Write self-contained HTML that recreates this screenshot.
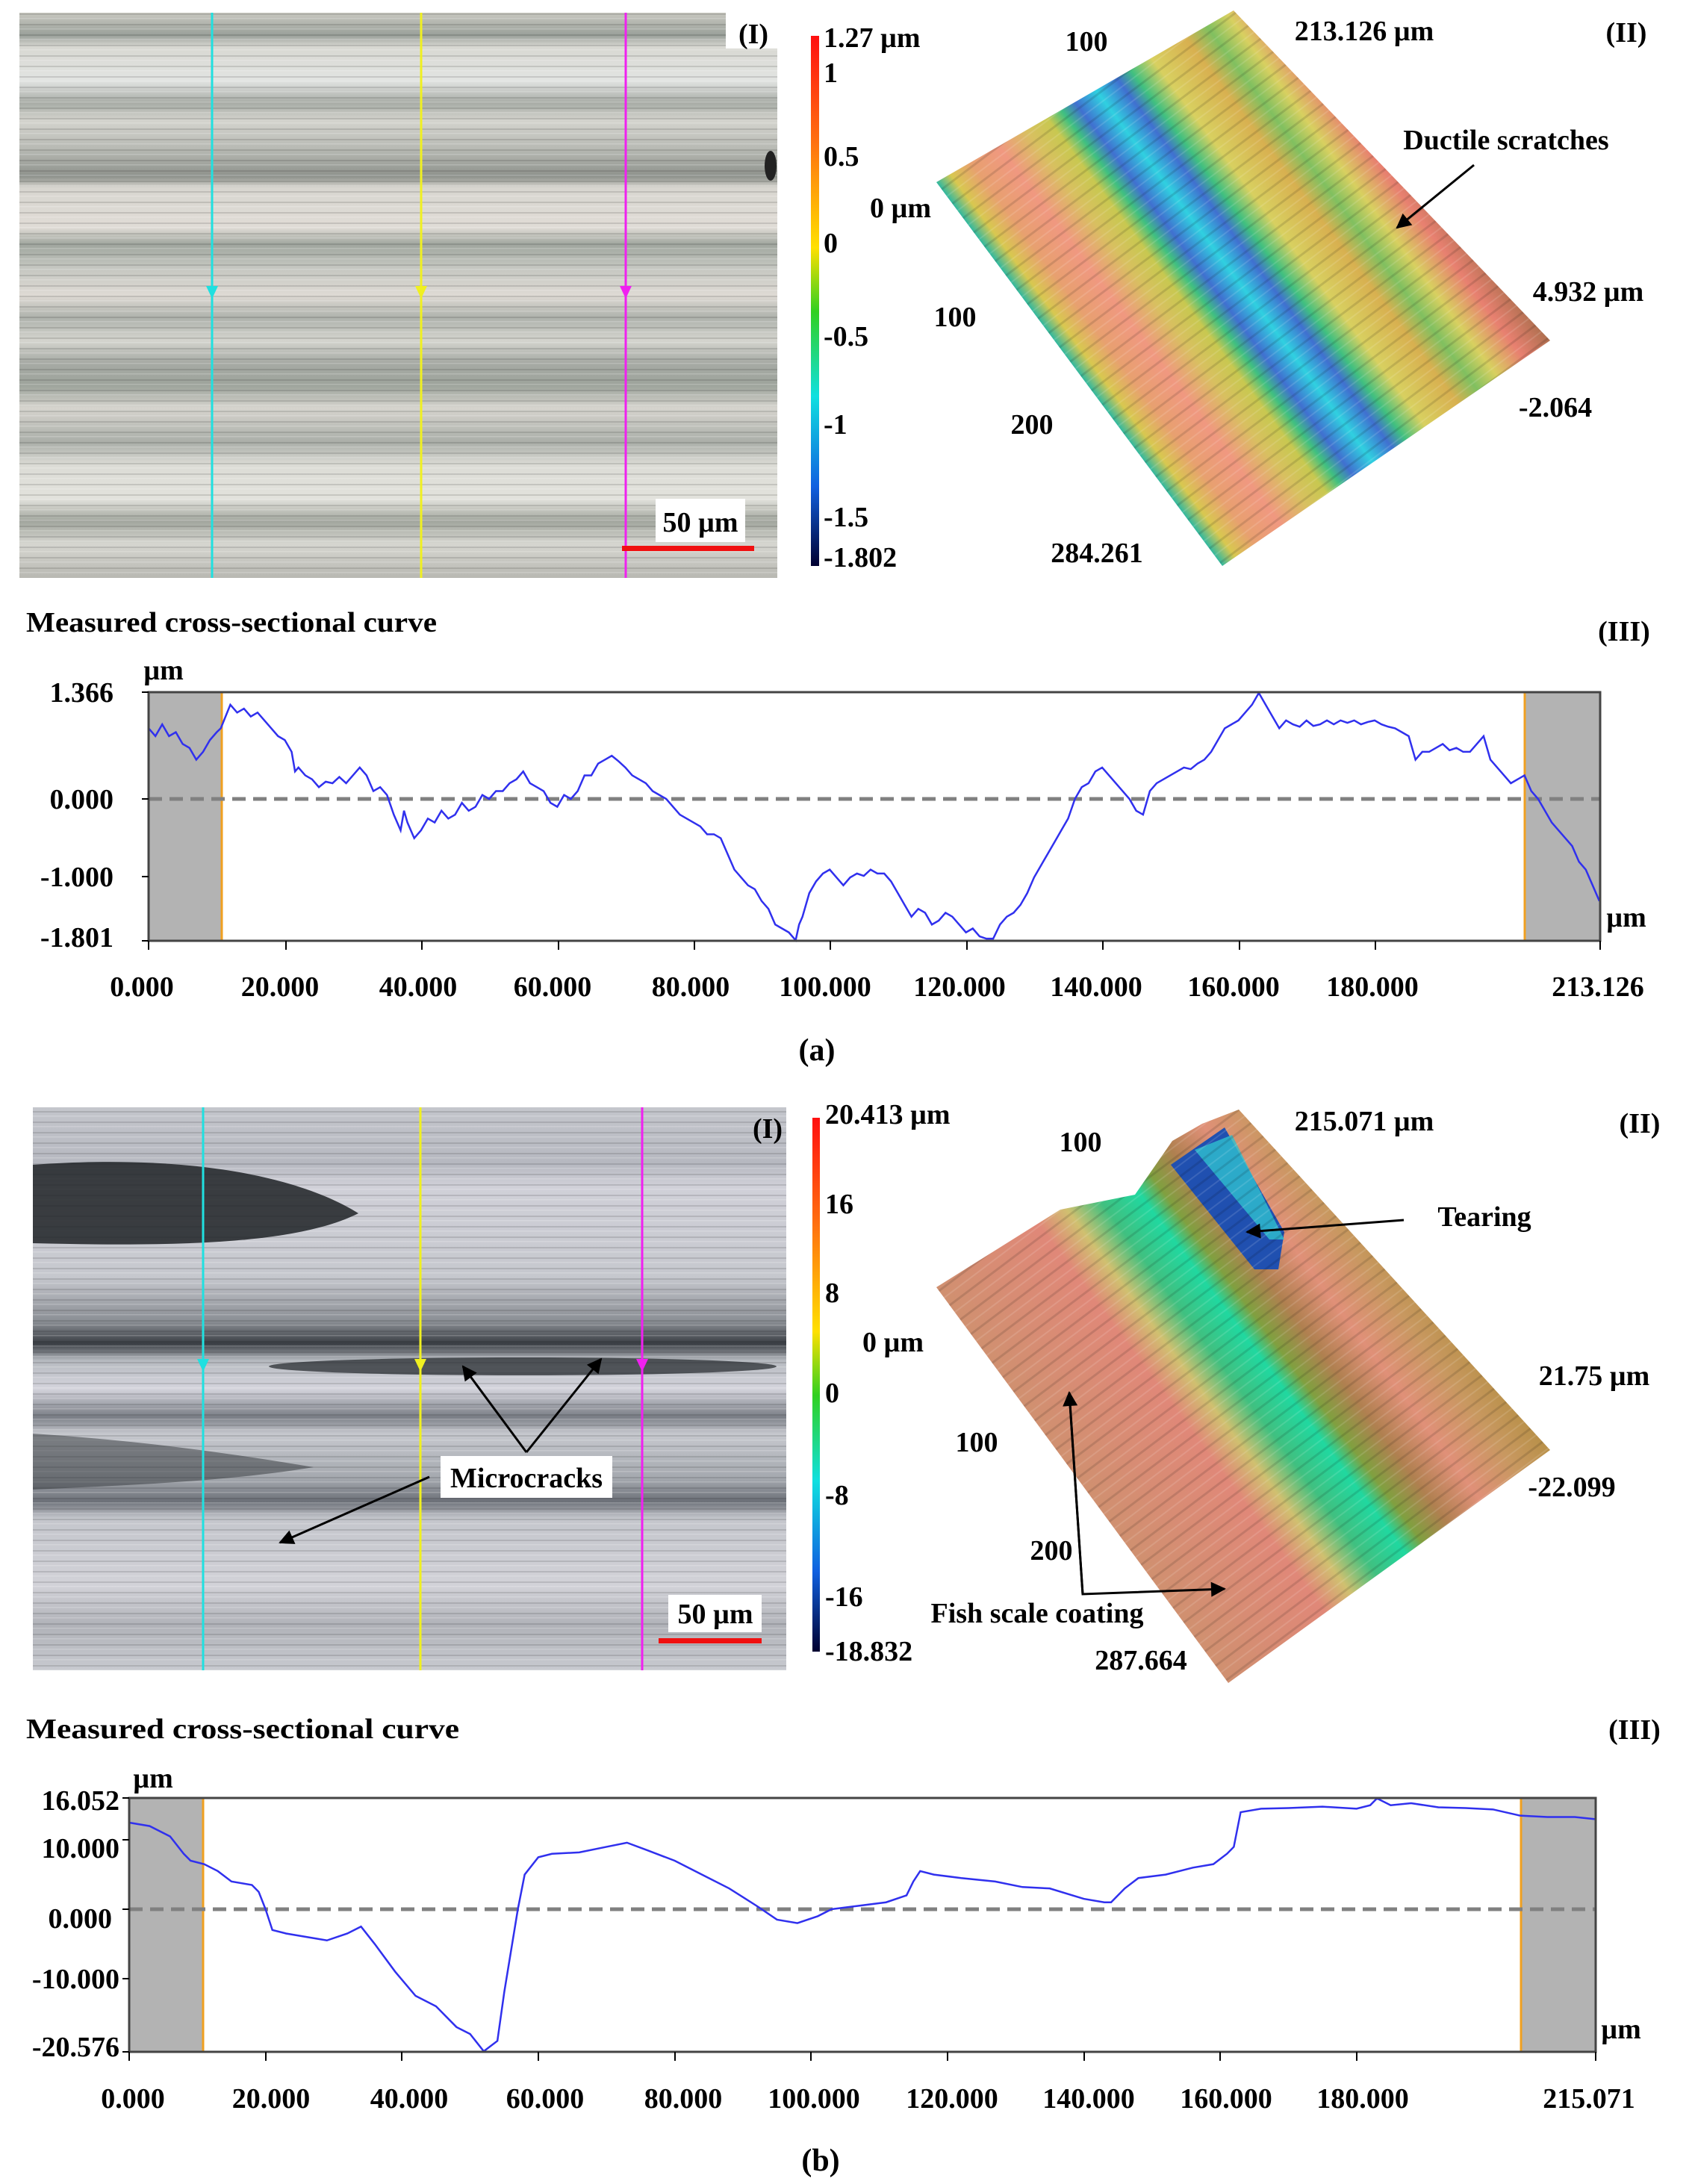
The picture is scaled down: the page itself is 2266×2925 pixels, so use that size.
<!DOCTYPE html>
<html><head><meta charset="utf-8"><style>
html,body{margin:0;padding:0;background:#fff;}
svg{display:block;}
text{font-family:"Liberation Serif",serif;font-weight:bold;fill:#000;}
</style></head><body>
<svg width="2266" height="2925" viewBox="0 0 2266 2925" xmlns="http://www.w3.org/2000/svg">
<defs>
<linearGradient id="cb" x1="0" y1="0" x2="0" y2="1">
<stop offset="0" stop-color="#ff1010"/><stop offset="0.2" stop-color="#ff7010"/><stop offset="0.4" stop-color="#ffe000"/><stop offset="0.52" stop-color="#30d020"/><stop offset="0.68" stop-color="#10e0e0"/><stop offset="0.85" stop-color="#1060e0"/><stop offset="1" stop-color="#000030"/>
</linearGradient>
<linearGradient id="pa" x1="0" y1="0" x2="0" y2="1">
<stop offset="0" stop-color="#c8c8c0"/><stop offset="0.04" stop-color="#9aa09a"/><stop offset="0.06" stop-color="#d8d8d2"/><stop offset="0.12" stop-color="#e2e4e2"/><stop offset="0.16" stop-color="#a8aca6"/><stop offset="0.19" stop-color="#d4d4ce"/><stop offset="0.24" stop-color="#b8bab4"/><stop offset="0.29" stop-color="#8e928c"/><stop offset="0.31" stop-color="#d8d6d0"/><stop offset="0.38" stop-color="#e0dcd6"/><stop offset="0.41" stop-color="#a0a69e"/><stop offset="0.45" stop-color="#c4c6c0"/><stop offset="0.5" stop-color="#dedad4"/><stop offset="0.54" stop-color="#aeb2ac"/><stop offset="0.58" stop-color="#d4d4ce"/><stop offset="0.62" stop-color="#a6aaa4"/><stop offset="0.66" stop-color="#9ea49c"/><stop offset="0.7" stop-color="#d6d4ce"/><stop offset="0.76" stop-color="#aaaea8"/><stop offset="0.8" stop-color="#dcdcd6"/><stop offset="0.86" stop-color="#e2e2dc"/><stop offset="0.9" stop-color="#a2a69e"/><stop offset="0.94" stop-color="#d6d6d0"/><stop offset="1" stop-color="#b8b8b2"/>
</linearGradient>
<pattern id="str" width="40" height="14" patternUnits="userSpaceOnUse"><rect width="40" height="14" fill="none"/><rect y="4" width="40" height="2" fill="#000" opacity="0.12"/><rect y="10" width="40" height="1.5" fill="#fff" opacity="0.2"/></pattern>
<linearGradient id="pb" x1="0" y1="0" x2="0" y2="1">
<stop offset="0" stop-color="#c4c6cc"/><stop offset="0.1" stop-color="#b6b8c0"/><stop offset="0.14" stop-color="#d0d0d8"/><stop offset="0.3" stop-color="#c6c8ce"/><stop offset="0.38" stop-color="#8a8e94"/><stop offset="0.42" stop-color="#3a3e44"/><stop offset="0.45" stop-color="#b6bac0"/><stop offset="0.5" stop-color="#d4d4dc"/><stop offset="0.55" stop-color="#7a7e86"/><stop offset="0.58" stop-color="#c6c8ce"/><stop offset="0.66" stop-color="#a4a8ae"/><stop offset="0.7" stop-color="#6c7078"/><stop offset="0.73" stop-color="#c4c6cc"/><stop offset="0.85" stop-color="#d2d2d8"/><stop offset="0.92" stop-color="#b0b2b8"/><stop offset="1" stop-color="#c8cad0"/>
</linearGradient>
<linearGradient id="s3a" gradientUnits="userSpaceOnUse" x1="1254" y1="244" x2="1681" y2="-74">
<stop offset="0" stop-color="#30b8a0"/><stop offset="0.04" stop-color="#d8c850"/><stop offset="0.1" stop-color="#e8a070"/><stop offset="0.18" stop-color="#f09880"/><stop offset="0.26" stop-color="#d8c060"/><stop offset="0.32" stop-color="#c8c850"/><stop offset="0.36" stop-color="#40c080"/><stop offset="0.4" stop-color="#4070d0"/><stop offset="0.46" stop-color="#30d0e0"/><stop offset="0.52" stop-color="#4070d0"/><stop offset="0.56" stop-color="#40c080"/><stop offset="0.62" stop-color="#d8d060"/><stop offset="0.72" stop-color="#d8b050"/><stop offset="0.78" stop-color="#80c060"/><stop offset="0.84" stop-color="#d8d060"/><stop offset="0.92" stop-color="#e88070"/><stop offset="1" stop-color="#b07050"/>
</linearGradient>
<linearGradient id="s3b" gradientUnits="userSpaceOnUse" x1="1254" y1="1724" x2="1683" y2="1407">
<stop offset="0" stop-color="#d09070"/><stop offset="0.3" stop-color="#e08878"/><stop offset="0.38" stop-color="#d0c070"/><stop offset="0.46" stop-color="#40c080"/><stop offset="0.55" stop-color="#20d8a0"/><stop offset="0.6" stop-color="#80a040"/><stop offset="0.68" stop-color="#b08050"/><stop offset="0.78" stop-color="#e09078"/><stop offset="0.9" stop-color="#c89860"/><stop offset="1" stop-color="#b89048"/>
</linearGradient>
<pattern id="diag" width="24" height="24" patternUnits="userSpaceOnUse" patternTransform="rotate(-37)"><rect width="24" height="3" fill="#000" opacity="0.12"/><rect y="12" width="24" height="2" fill="#fff" opacity="0.12"/></pattern>
<clipPath id="cpb"><rect x="44" y="1483" width="1009" height="754"/></clipPath>
<marker id="arb" viewBox="0 0 10 10" refX="9" refY="5" markerWidth="24" markerHeight="20" orient="auto" markerUnits="userSpaceOnUse"><path d="M0,0 L10,5 L0,10 z" fill="#000"/></marker>
</defs>

<!-- ===== (a) ===== -->
<rect x="26" y="17" width="1015" height="757" fill="url(#pa)"/>
<rect x="26" y="17" width="1015" height="757" fill="url(#str)"/>
<rect x="972" y="17" width="69" height="48" fill="#fff"/>
<ellipse cx="1032" cy="222" rx="8" ry="20" fill="#222"/>
<line x1="284" y1="17" x2="284" y2="774" stroke="#20e0e0" stroke-width="3"/>
<path d="M276,383 L292,383 L284,400z" fill="#20e0e0"/>
<line x1="564" y1="17" x2="564" y2="774" stroke="#f0f020" stroke-width="3"/>
<path d="M556,383 L572,383 L564,400z" fill="#f0f020"/>
<line x1="838" y1="17" x2="838" y2="774" stroke="#f020f0" stroke-width="3"/>
<path d="M830,383 L846,383 L838,400z" fill="#f020f0"/>
<rect x="878" y="668" width="120" height="58" fill="#fff"/>
<text x="938" y="712" font-size="38" text-anchor="middle">50 µm</text>
<rect x="833" y="731" width="177" height="7" fill="#f01010"/>
<text x="1009" y="58" font-size="38" text-anchor="middle">(I)</text>

<rect x="1086" y="48" width="11" height="710" fill="url(#cb)"/>
<g font-size="38">
<text x="1103" y="63">1.27 µm</text><text x="1103" y="110">1</text><text x="1103" y="222">0.5</text><text x="1103" y="338">0</text><text x="1103" y="463">-0.5</text><text x="1103" y="581">-1</text><text x="1103" y="705">-1.5</text><text x="1103" y="759">-1.802</text>
</g>

<polygon points="1254,244 1652,14 2076,456 1637,758" fill="url(#s3a)"/>
<polygon points="1254,244 1652,14 2076,456 1637,758" fill="url(#diag)"/>
<g font-size="38">
<text x="1455" y="68" text-anchor="middle">100</text>
<text x="1827" y="54" text-anchor="middle">213.126 µm</text>
<text x="2178" y="56" text-anchor="middle">(II)</text>
<text x="2017" y="200" text-anchor="middle">Ductile scratches</text>
<text x="1206" y="291" text-anchor="middle">0 µm</text>
<text x="2127" y="403" text-anchor="middle">4.932 µm</text>
<text x="1279" y="437" text-anchor="middle">100</text>
<text x="2083" y="558" text-anchor="middle">-2.064</text>
<text x="1382" y="581" text-anchor="middle">200</text>
<text x="1469" y="753" text-anchor="middle">284.261</text>
</g>
<line x1="1974" y1="221" x2="1871" y2="305" stroke="#000" stroke-width="3" marker-end="url(#arb)"/>

<text x="35" y="846" font-size="38" textLength="550" lengthAdjust="spacingAndGlyphs">Measured cross-sectional curve</text>
<text x="2175" y="858" font-size="38" text-anchor="middle">(III)</text>

<rect x="199" y="927" width="1944" height="333" fill="#fff"/>
<rect x="199" y="927" width="98" height="333" fill="#b3b3b3"/>
<rect x="2042" y="927" width="101" height="333" fill="#b3b3b3"/>
<line x1="297" y1="927" x2="297" y2="1260" stroke="#f0a020" stroke-width="3"/>
<line x1="2042" y1="927" x2="2042" y2="1260" stroke="#f0a020" stroke-width="3"/>
<line x1="199" y1="1070" x2="2143" y2="1070" stroke="#808080" stroke-width="5" stroke-dasharray="18,10"/>
<g transform="translate(199,1070) scale(9.122,-105.15)">
<polyline fill="none" stroke="#3030ee" stroke-width="2.5" vector-effect="non-scaling-stroke" points="0,0.9 1,0.8 2,0.95 3,0.8 4,0.85 5,0.7 6,0.65 7,0.5 8,0.6 9,0.75 10,0.85 10.6,0.9 12,1.2 13,1.1 14,1.15 15,1.05 16,1.1 17,1.0 18,0.9 19,0.8 20,0.75 21,0.6 21.5,0.35 22,0.4 23,0.3 24,0.25 25,0.15 26,0.22 27,0.2 28,0.28 29,0.2 30,0.3 31,0.4 32,0.3 33,0.1 34,0.15 35,0.05 36,-0.2 37,-0.4 37.5,-0.15 38,-0.3 39,-0.5 40,-0.4 41,-0.25 42,-0.3 43,-0.15 44,-0.25 45,-0.2 46,-0.05 47,-0.15 48,-0.1 49,0.05 50,0.0 51,0.1 52,0.1 53,0.2 54,0.25 55,0.35 56,0.2 57,0.15 58,0.1 59,-0.05 60,-0.1 61,0.05 62,0.0 63,0.1 64,0.3 65,0.3 66,0.45 67,0.5 68,0.55 69,0.48 70,0.4 71,0.3 72,0.25 73,0.2 74,0.1 75,0.05 76,0.0 77,-0.1 78,-0.2 80,-0.3 81,-0.35 82,-0.45 83,-0.45 84,-0.5 85,-0.7 86,-0.9 87,-1.0 88,-1.1 89,-1.15 90,-1.3 91,-1.4 92,-1.6 93,-1.65 94,-1.7 95,-1.8 95.5,-1.6 96,-1.5 97,-1.2 98,-1.05 99,-0.95 100,-0.9 101,-1.0 102,-1.1 103,-1.0 104,-0.95 105,-0.98 106,-0.9 107,-0.95 108,-0.95 109,-1.05 110,-1.2 111,-1.35 112,-1.5 113,-1.4 114,-1.45 115,-1.6 116,-1.55 117,-1.45 118,-1.5 119,-1.6 120,-1.7 121,-1.65 122,-1.75 123,-1.78 124,-1.78 125,-1.6 126,-1.5 127,-1.45 128,-1.35 129,-1.2 130,-1.0 131,-0.85 132,-0.7 133,-0.55 134,-0.4 135,-0.25 136,0.0 137,0.15 138,0.2 139,0.35 140,0.4 141,0.3 142,0.2 143,0.1 144,0.0 145,-0.15 146,-0.2 147,0.1 148,0.2 149,0.25 150,0.3 151,0.35 152,0.4 153,0.38 154,0.45 155,0.5 156,0.6 157,0.75 158,0.9 159,0.95 160,1.0 161,1.1 162,1.2 163,1.35 164,1.2 165,1.05 166,0.9 167,1.0 168,0.95 169,0.92 170,1.0 171,0.93 172,0.95 173,1.0 174,0.95 175,1.0 176,0.97 177,1.0 178,0.95 179,0.98 180,1.0 181,0.95 182,0.92 183,0.9 184,0.85 185,0.8 186,0.5 187,0.6 188,0.6 189,0.65 190,0.7 191,0.62 192,0.65 193,0.6 194,0.6 195,0.7 196,0.8 197,0.5 198,0.4 199,0.3 200,0.2 201,0.25 202,0.3 203,0.1 204,0.0 205,-0.15 206,-0.3 207,-0.4 208,-0.5 209,-0.6 210,-0.8 211,-0.9 212,-1.1 213,-1.3"/>
</g>
<rect x="199" y="927" width="1944" height="333" fill="none" stroke="#444" stroke-width="3"/>
<g stroke="#000" stroke-width="2">
<line x1="190" y1="927" x2="199" y2="927"/><line x1="190" y1="1070" x2="199" y2="1070"/><line x1="190" y1="1174" x2="199" y2="1174"/><line x1="190" y1="1260" x2="199" y2="1260"/>
</g>
<g font-size="38" text-anchor="end">
<text x="152" y="940">1.366</text><text x="152" y="1083">0.000</text><text x="152" y="1187">-1.000</text><text x="152" y="1268">-1.801</text>
</g>
<text x="219" y="910" font-size="38" text-anchor="middle">µm</text>
<text x="2178" y="1241" font-size="38" text-anchor="middle">µm</text>
<g stroke="#000" stroke-width="2">
<line x1="199" y1="1260" x2="199" y2="1272"/><line x1="383" y1="1260" x2="383" y2="1272"/><line x1="565" y1="1260" x2="565" y2="1272"/><line x1="748" y1="1260" x2="748" y2="1272"/><line x1="930" y1="1260" x2="930" y2="1272"/><line x1="1112" y1="1260" x2="1112" y2="1272"/><line x1="1295" y1="1260" x2="1295" y2="1272"/><line x1="1477" y1="1260" x2="1477" y2="1272"/><line x1="1660" y1="1260" x2="1660" y2="1272"/><line x1="1842" y1="1260" x2="1842" y2="1272"/><line x1="2143" y1="1260" x2="2143" y2="1272"/>
</g>
<g font-size="38" text-anchor="middle">
<text x="190" y="1334">0.000</text><text x="375" y="1334">20.000</text><text x="560" y="1334">40.000</text><text x="740" y="1334">60.000</text><text x="925" y="1334">80.000</text><text x="1105" y="1334">100.000</text><text x="1285" y="1334">120.000</text><text x="1468" y="1334">140.000</text><text x="1652" y="1334">160.000</text><text x="1838" y="1334">180.000</text><text x="2140" y="1334">213.126</text>
</g>
<text x="1094" y="1420" font-size="42" text-anchor="middle">(a)</text>

<!-- ===== (b) ===== -->
<rect x="44" y="1483" width="1009" height="754" fill="url(#pb)"/>
<rect x="44" y="1483" width="1009" height="754" fill="url(#str)"/>
<g clip-path="url(#cpb)">
<path d="M44,1560 C250,1545 400,1575 480,1625 C400,1665 250,1670 44,1665 z" fill="#1e2226" opacity="0.85"/>
<path d="M44,1920 C200,1930 330,1950 420,1965 C300,1985 150,1990 44,1995 z" fill="#303438" opacity="0.5"/>
<ellipse cx="700" cy="1830" rx="340" ry="12" fill="#202428" opacity="0.7"/>
</g>
<line x1="272" y1="1483" x2="272" y2="2237" stroke="#20e0e0" stroke-width="3"/>
<path d="M264,1820 L280,1820 L272,1837z" fill="#20e0e0"/>
<line x1="563" y1="1483" x2="563" y2="2237" stroke="#f0f020" stroke-width="3"/>
<path d="M555,1820 L571,1820 L563,1837z" fill="#f0f020"/>
<line x1="860" y1="1483" x2="860" y2="2237" stroke="#f020f0" stroke-width="3"/>
<path d="M852,1820 L868,1820 L860,1837z" fill="#f020f0"/>
<rect x="590" y="1950" width="230" height="56" fill="#fff"/>
<text x="705" y="1992" font-size="38" text-anchor="middle">Microcracks</text>
<line x1="705" y1="1945" x2="620" y2="1830" stroke="#000" stroke-width="3" marker-end="url(#arb)"/>
<line x1="705" y1="1945" x2="805" y2="1820" stroke="#000" stroke-width="3" marker-end="url(#arb)"/>
<line x1="575" y1="1978" x2="375" y2="2066" stroke="#000" stroke-width="3" marker-end="url(#arb)"/>
<rect x="895" y="2136" width="125" height="50" fill="#fff"/>
<text x="958" y="2174" font-size="38" text-anchor="middle">50 µm</text>
<rect x="882" y="2194" width="138" height="7" fill="#f01010"/>
<text x="1028" y="1524" font-size="38" text-anchor="middle">(I)</text>

<rect x="1088" y="1497" width="10" height="715" fill="url(#cb)"/>
<g font-size="38">
<text x="1105" y="1505">20.413 µm</text><text x="1105" y="1625">16</text><text x="1105" y="1744">8</text><text x="1155" y="1810">0 µm</text><text x="1105" y="1878">0</text><text x="1105" y="2015">-8</text><text x="1105" y="2151">-16</text><text x="1105" y="2224">-18.832</text>
</g>

<polygon points="1254,1724 1420,1620 1520,1600 1570,1528 1610,1505 1659,1486 2076,1942 1645,2254" fill="url(#s3b)"/>
<polygon points="1568,1560 1640,1510 1720,1650 1712,1700 1680,1700" fill="#2050b0"/>
<polygon points="1600,1540 1650,1520 1720,1660 1700,1660" fill="#30c0d0" opacity="0.8"/>
<polygon points="1254,1724 1420,1620 1520,1600 1570,1528 1610,1505 1659,1486 2076,1942 1645,2254" fill="url(#diag)"/>
<g font-size="38">
<text x="1447" y="1542" text-anchor="middle">100</text>
<text x="1827" y="1514" text-anchor="middle">215.071 µm</text>
<text x="2196" y="1517" text-anchor="middle">(II)</text>
<text x="1988" y="1642" text-anchor="middle">Tearing</text>
<text x="2135" y="1855" text-anchor="middle">21.75 µm</text>
<text x="1308" y="1944" text-anchor="middle">100</text>
<text x="2105" y="2004" text-anchor="middle">-22.099</text>
<text x="1408" y="2089" text-anchor="middle">200</text>
<text x="1389" y="2173" text-anchor="middle">Fish scale coating</text>
<text x="1528" y="2236" text-anchor="middle">287.664</text>
</g>
<line x1="1880" y1="1634" x2="1670" y2="1650" stroke="#000" stroke-width="3" marker-end="url(#arb)"/>
<polyline points="1432,1865 1450,2135 1640,2128" fill="none" stroke="#000" stroke-width="3" marker-end="url(#arb)"/>
<line x1="1450" y1="2135" x2="1432" y2="1865" stroke="#000" stroke-width="3" marker-end="url(#arb)"/>

<text x="35" y="2328" font-size="38" textLength="580" lengthAdjust="spacingAndGlyphs">Measured cross-sectional curve</text>
<text x="2189" y="2329" font-size="38" text-anchor="middle">(III)</text>

<rect x="173" y="2408" width="1964" height="340" fill="#fff"/>
<rect x="173" y="2408" width="99" height="340" fill="#b3b3b3"/>
<rect x="2037" y="2408" width="100" height="340" fill="#b3b3b3"/>
<line x1="272" y1="2408" x2="272" y2="2748" stroke="#f0a020" stroke-width="3"/>
<line x1="2037" y1="2408" x2="2037" y2="2748" stroke="#f0a020" stroke-width="3"/>
<line x1="173" y1="2557" x2="2137" y2="2557" stroke="#808080" stroke-width="5" stroke-dasharray="18,10"/>
<g transform="translate(173,2557) scale(9.132,-9.283)">
<polyline fill="none" stroke="#3030ee" stroke-width="2.5" vector-effect="non-scaling-stroke" points="0,12.5 3,12 6,10.5 8,8 9,7 11,6.5 13,5.5 15,4 18,3.5 19,2.5 20,0 21,-3 23,-3.5 26,-4 29,-4.5 32,-3.5 34,-2.5 36,-5 39,-9 42,-12.5 45,-14 48,-17 50,-18 52,-20.5 54,-19 55,-12 57,0 58,5 60,7.5 62,8 66,8.2 70,9 73,9.6 76,8.5 80,7 84,5 88,3 92,0.5 95,-1.5 98,-2 101,-1 103,0 107,0.5 111,1 114,2 115,4 116,5.5 118,5 122,4.5 127,4 131,3.2 135,3 140,1.5 143,1 144,1 146,3 148,4.5 152,5 156,6 159,6.5 161,8 162,9 163,14 166,14.5 170,14.6 175,14.8 180,14.5 182,15 183,16 185,15 188,15.3 192,14.7 196,14.6 200,14.4 204,13.5 208,13.3 212,13.3 215,13"/>
</g>
<rect x="173" y="2408" width="1964" height="340" fill="none" stroke="#444" stroke-width="3"/>
<g stroke="#000" stroke-width="2">
<line x1="164" y1="2408" x2="173" y2="2408"/><line x1="164" y1="2464" x2="173" y2="2464"/><line x1="164" y1="2557" x2="173" y2="2557"/><line x1="164" y1="2650" x2="173" y2="2650"/><line x1="164" y1="2748" x2="173" y2="2748"/>
</g>
<g font-size="38" text-anchor="end">
<text x="160" y="2424">16.052</text><text x="160" y="2488">10.000</text><text x="150" y="2582">0.000</text><text x="160" y="2663">-10.000</text><text x="160" y="2754">-20.576</text>
</g>
<text x="205" y="2394" font-size="38" text-anchor="middle">µm</text>
<text x="2171" y="2730" font-size="38" text-anchor="middle">µm</text>
<g stroke="#000" stroke-width="2">
<line x1="173" y1="2748" x2="173" y2="2760"/><line x1="356" y1="2748" x2="356" y2="2760"/><line x1="538" y1="2748" x2="538" y2="2760"/><line x1="721" y1="2748" x2="721" y2="2760"/><line x1="904" y1="2748" x2="904" y2="2760"/><line x1="1086" y1="2748" x2="1086" y2="2760"/><line x1="1269" y1="2748" x2="1269" y2="2760"/><line x1="1452" y1="2748" x2="1452" y2="2760"/><line x1="1634" y1="2748" x2="1634" y2="2760"/><line x1="1817" y1="2748" x2="1817" y2="2760"/><line x1="2137" y1="2748" x2="2137" y2="2760"/>
</g>
<g font-size="38" text-anchor="middle">
<text x="178" y="2823">0.000</text><text x="363" y="2823">20.000</text><text x="548" y="2823">40.000</text><text x="730" y="2823">60.000</text><text x="915" y="2823">80.000</text><text x="1090" y="2823">100.000</text><text x="1275" y="2823">120.000</text><text x="1458" y="2823">140.000</text><text x="1642" y="2823">160.000</text><text x="1825" y="2823">180.000</text><text x="2128" y="2823">215.071</text>
</g>
<text x="1099" y="2907" font-size="42" text-anchor="middle">(b)</text>
</svg>
</body></html>
